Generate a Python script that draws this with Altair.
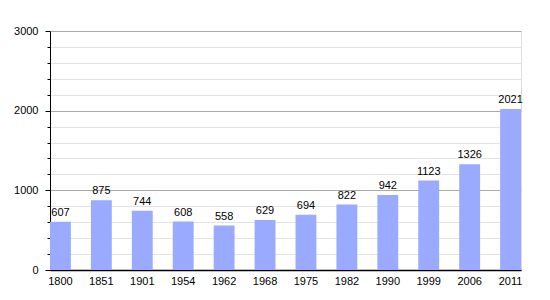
import altair as alt
import pandas as pd

years = ["1800", "1851", "1901", "1954", "1962", "1968", "1975", "1982", "1990", "1999", "2006", "2011"]
population = [607, 875, 744, 608, 558, 629, 694, 822, 942, 1123, 1326, 2021]
y_ticks = list(range(0, 3001, 200))

df = pd.DataFrame({"year": years, "pop": population})

x = alt.X("year:N", sort=years, title=None,
          scale=alt.Scale(paddingInner=0.49, paddingOuter=0),
          axis=alt.Axis(labelAngle=0, ticks=False, domainColor="black", domainWidth=1.5,
                        labelFont="Liberation Sans", labelFontSize=11, labelColor="black",
                        labelPadding=5))
y = alt.Y("pop:Q", title=None,
          scale=alt.Scale(domain=[0, 3000], nice=False),
          axis=alt.Axis(values=y_ticks, format="d",
                        labelExpr="datum.value % 1000 === 0 ? datum.label : ''",
                        grid=True,
                        gridColor=alt.expr("datum.value % 1000 === 0 ? '#aaaaaa' : '#e3e3e3'"),
                        tickSize=alt.expr("datum.value % 1000 === 0 ? 5 : 3"),
                        tickColor="black", domainColor="black",
                        labelFont="Liberation Sans", labelFontSize=11, labelColor="black",
                        labelPadding=7))

base = alt.Chart(df).encode(x=x, y=y)
bars = base.mark_bar(color="#99aaff")
labels = base.mark_text(baseline="bottom", dy=-4, font="Liberation Sans",
                        fontSize=11, color="black").encode(text="pop:Q")

chart = (bars + labels).properties(
    width=471, height=239,
    autosize=alt.AutoSizeParams(type="none"),
    padding={"left": 50, "top": 31, "right": 29, "bottom": 30},
).configure_view(stroke=None).configure(background="white")

chart.save("out.html", embed_options={"renderer": "svg", "actions": False})
